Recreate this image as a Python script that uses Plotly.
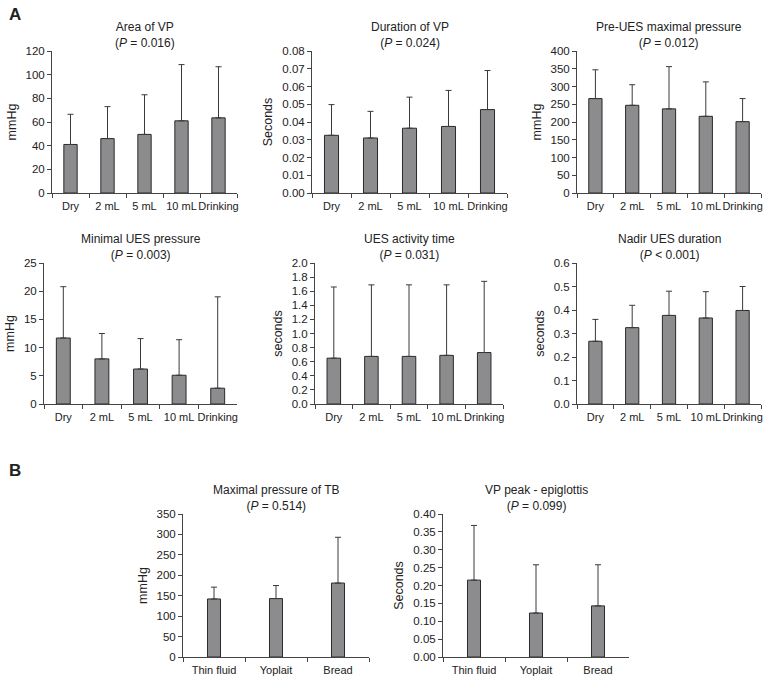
import plotly.graph_objects as go

# ---------------- data ----------------
cats_a = ["Dry", "2 mL", "5 mL", "10 mL", "Drinking"]
cats_b = ["Thin fluid", "Yoplait", "Bread"]

area_mean = [41.0, 46.0, 49.5, 61.0, 63.5]
area_sd = [25.5, 27.0, 33.5, 47.5, 43.2]

dur_mean = [0.0325, 0.031, 0.0365, 0.0375, 0.047]
dur_sd = [0.0173, 0.015, 0.0175, 0.0203, 0.022]

pre_mean = [266, 247, 237, 216, 201]
pre_sd = [81, 58, 119, 97, 65]

min_mean = [11.7, 8.0, 6.2, 5.1, 2.8]
min_sd = [9.1, 4.5, 5.4, 6.3, 16.2]

act_mean = [0.65, 0.675, 0.675, 0.69, 0.73]
act_sd = [1.01, 1.015, 1.015, 1.0, 1.01]

nadir_mean = [0.267, 0.325, 0.377, 0.366, 0.398]
nadir_sd = [0.093, 0.095, 0.103, 0.112, 0.102]

tb_mean = [142, 143, 181]
tb_sd = [29, 32, 112]

vp_mean = [0.215, 0.123, 0.143]
vp_sd = [0.153, 0.135, 0.115]

titles = [
    ("Area of VP", "= 0.016"),
    ("Duration of VP", "= 0.024"),
    ("Pre-UES maximal pressure", "= 0.012"),
    ("Minimal UES pressure", "= 0.003"),
    ("UES activity time", "= 0.031"),
    ("Nadir UES duration", "< 0.001"),
    ("Maximal pressure of TB", "= 0.514"),
    ("VP peak - epiglottis", "= 0.099"),
]
ytitles = ["mmHg", "Seconds", "mmHg", "mmHg", "seconds", "seconds", "mmHg", "Seconds"]
yranges = [(0, 120, 20), (0, 0.08, 0.01), (0, 400, 50), (0, 25, 5),
           (0, 2.0, 0.2), (0, 0.6, 0.1), (0, 350, 50), (0, 0.40, 0.05)]
yformats = ["", ".2f", "", "", ".1f", ".1f", "", ".2f"]

panels = [
    (cats_a, area_mean, area_sd),
    (cats_a, dur_mean, dur_sd),
    (cats_a, pre_mean, pre_sd),
    (cats_a, min_mean, min_sd),
    (cats_a, act_mean, act_sd),
    (cats_a, nadir_mean, nadir_sd),
    (cats_b, tb_mean, tb_sd),
    (cats_b, vp_mean, vp_sd),
]

# ---------------- layout geometry (pixels) ----------------
W, H = 770, 683
boxes = [
    (52, 237, 51, 193), (312, 507, 51, 193), (577, 761, 51, 193),
    (44, 237, 263, 404), (315, 503, 263, 404), (577, 761, 263, 404),
    (183, 369, 514, 657), (443, 629, 514, 657),
]

FONT = "Liberation Sans, Arial, sans-serif"
AX = "#444444"
fig = go.Figure()
layout = dict(
    width=W, height=H, margin=dict(l=0, r=0, t=0, b=0, autoexpand=False),
    paper_bgcolor="white", plot_bgcolor="white", showlegend=False,
    font=dict(family=FONT, color="#222222", size=11.5),
)
annotations = []

for i, ((cats, mean, sd), (x0, x1, y0, y1)) in enumerate(zip(panels, boxes)):
    n = i + 1
    sfx = "" if n == 1 else str(n)
    width = 0.36 if len(cats) == 5 else 0.21
    fig.add_trace(go.Bar(
        x=cats, y=mean, width=width,
        marker=dict(color="#8c8c8e", line=dict(color="#2a2a2a", width=1)),
        error_y=dict(type="data", symmetric=False, array=sd,
                     arrayminus=[0] * len(sd), color="#3a3a3a",
                     thickness=1, width=3),
        xaxis="x" + sfx, yaxis="y" + sfx, hoverinfo="skip",
    ))
    lo, hi, step = yranges[i]
    layout["xaxis" + sfx] = dict(
        domain=[x0 / W, x1 / W], anchor="y" + sfx, type="category",
        range=[-0.5, len(cats) - 0.5], tickson="boundaries",
        ticks="outside", ticklen=4, tickcolor=AX, showline=True,
        linecolor=AX, linewidth=1, showgrid=False, zeroline=False,
        tickangle=0, automargin=False, ticklabelstandoff=3,
        tickfont=dict(size=11, color="#222222"), fixedrange=True,
    )
    layout["yaxis" + sfx] = dict(
        domain=[1 - y1 / H, 1 - y0 / H], anchor="x" + sfx,
        range=[lo, hi], tick0=lo, dtick=step, tickformat=yformats[i],
        ticks="outside", ticklen=4, tickcolor=AX, showline=True,
        linecolor=AX, linewidth=1, showgrid=False, zeroline=False,
        automargin=False,
        tickfont=dict(size=11.5, color="#222222"),
        title=dict(text=ytitles[i], font=dict(size=12.5, color="#222222"),
                   standoff=6),
        fixedrange=True,
    )
    t1, t2 = titles[i]
    annotations.append(dict(
        x=(x0 + x1) / 2 / W, y=1 - y0 / H, xref="paper", yref="paper",
        xanchor="center", yanchor="bottom", yshift=-1, showarrow=False,
        text=f"{t1}<br>(<i>P</i> {t2})", align="center",
        font=dict(size=12, color="#222222", family=FONT),
    ))

annotations.append(dict(x=7 / W, y=1 - 3 / H, xref="paper", yref="paper",
                        xanchor="left", yanchor="top", showarrow=False,
                        text="<b>A</b>", font=dict(size=17, color="#222222")))
annotations.append(dict(x=7 / W, y=1 - 459 / H, xref="paper", yref="paper",
                        xanchor="left", yanchor="top", showarrow=False,
                        text="<b>B</b>", font=dict(size=17, color="#222222")))
layout["annotations"] = annotations
fig.update_layout(**layout)
fig.write_html(
    "out.html",
    config={"displayModeBar": False},
    post_script="document.body.style.margin='0px';"
                "document.body.style.overflow='hidden';",
)
